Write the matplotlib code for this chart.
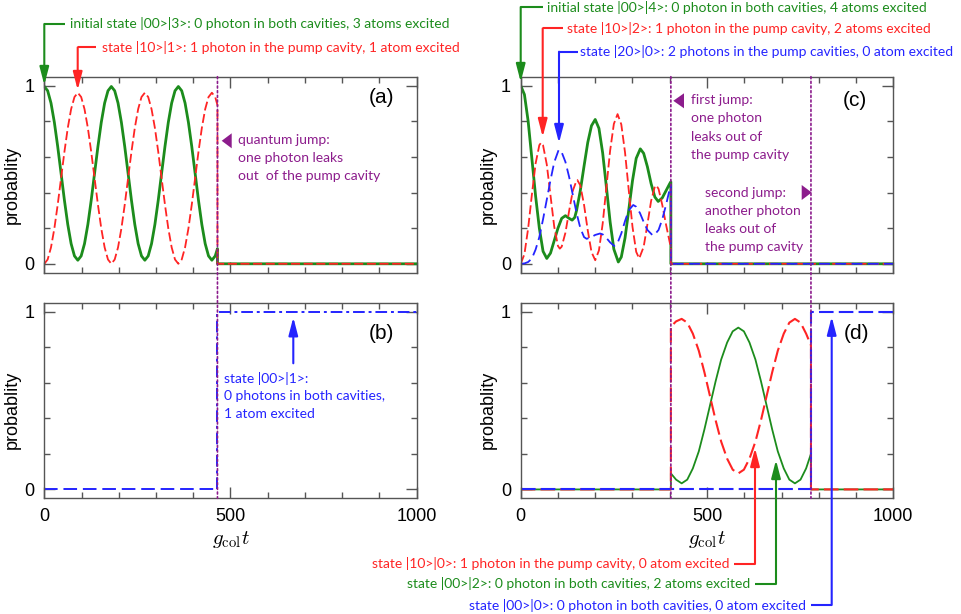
import matplotlib
matplotlib.use('Agg')
import matplotlib.pyplot as plt
from matplotlib.lines import Line2D
from matplotlib.patches import FancyArrowPatch, Polygon, ConnectionPatch

# ---------------- data ----------------
# panel (a): initial |00>|3>, jump at g t = 465
T_A = [0, 9, 18, 27, 36, 45, 54, 63, 72, 81, 90, 99, 108, 117, 126, 135, 144, 153, 162, 171,
       180, 189, 198, 207, 216, 225, 234, 243, 252, 261, 270, 279, 288, 297, 306, 315, 324, 333, 342, 351,
       360, 369, 378, 387, 396, 405, 414, 423, 432, 441, 450, 459, 465, 465, 1000]
GREEN_A = [0.995, 0.971, 0.902, 0.794, 0.658, 0.508, 0.357, 0.221, 0.113, 0.044,
           0.020, 0.044, 0.113, 0.221, 0.357, 0.508, 0.658, 0.794, 0.902, 0.971,
           0.995, 0.971, 0.902, 0.794, 0.658, 0.508, 0.357, 0.221, 0.113, 0.044,
           0.020, 0.044, 0.113, 0.221, 0.357, 0.508, 0.658, 0.794, 0.902, 0.971,
           0.995, 0.971, 0.902, 0.794, 0.658, 0.508, 0.357, 0.221, 0.113, 0.044,
           0.020, 0.044, 0.085, 0.0, 0.0]
RED_A = [0.0, 0.024, 0.092, 0.198, 0.332, 0.480, 0.628, 0.762, 0.868, 0.936,
         0.960, 0.936, 0.868, 0.762, 0.628, 0.480, 0.332, 0.198, 0.092, 0.024,
         0.0, 0.024, 0.092, 0.198, 0.332, 0.480, 0.628, 0.762, 0.868, 0.936,
         0.960, 0.936, 0.868, 0.762, 0.628, 0.480, 0.332, 0.198, 0.092, 0.024,
         0.0, 0.024, 0.092, 0.198, 0.332, 0.480, 0.628, 0.762, 0.868, 0.936,
         0.960, 0.936, 0.89, 0.0, 0.0]
JUMP_A = 465

# panel (b)
T_B = [0, 465, 465, 1000]
BLUE_B = [0, 0, 1, 1]

# panel (c): initial |00>|4>, jumps at 403 and 779
T_C_G = [0, 10, 20, 30, 40, 50, 60, 70, 80, 90, 100, 110, 120, 130, 138, 145, 150, 160, 170, 180,
         190, 200, 210, 220, 230, 240, 250, 262, 270, 280, 290, 300, 310, 321, 330, 340, 350, 360,
         369, 380, 390, 400, 403, 403, 1000]
GREEN_C = [1.00, 0.95, 0.80, 0.59, 0.38, 0.20, 0.07, 0.03, 0.06, 0.13, 0.20, 0.255, 0.27, 0.255,
           0.245, 0.26, 0.30, 0.411, 0.548, 0.681, 0.775, 0.81, 0.76, 0.622, 0.431, 0.235, 0.082,
           0.01, 0.038, 0.145, 0.302, 0.466, 0.592, 0.645, 0.62, 0.545, 0.45, 0.375, 0.35, 0.37,
           0.41, 0.45, 0.46, 0.0, 0.0]
T_C_R = [0, 10, 20, 30, 40, 50, 55, 60, 70, 80, 90, 100, 105, 110, 120, 130, 140, 150, 152, 160,
         170, 180, 190, 200, 210, 220, 230, 240, 250, 260, 270, 280, 290, 300, 310, 318, 330, 340,
         350, 360, 364, 370, 380, 390, 400, 403, 403, 1000]
RED_C = [0.0, 0.054, 0.199, 0.388, 0.563, 0.666, 0.68, 0.665, 0.557, 0.383, 0.208, 0.10, 0.085,
         0.096, 0.174, 0.297, 0.411, 0.468, 0.47, 0.44, 0.331, 0.187, 0.066, 0.02, 0.075, 0.225,
         0.43, 0.635, 0.785, 0.84, 0.782, 0.625, 0.413, 0.208, 0.067, 0.03, 0.095, 0.221, 0.353,
         0.433, 0.44, 0.42, 0.33, 0.22, 0.12, 0.095, 0.0, 0.0]
T_C_B = [0, 10, 20, 30, 40, 50, 60, 70, 80, 90, 102, 110, 120, 130, 140, 150, 160, 170, 177, 190,
         200, 213, 220, 230, 240, 251, 260, 270, 280, 290, 302, 310, 320, 330, 340, 354, 360, 370,
         380, 390, 400, 403, 403, 1000]
BLUE_C = [0.0, 0.002, 0.01, 0.03, 0.08, 0.15, 0.25, 0.36, 0.47, 0.57, 0.64, 0.626, 0.572, 0.487,
          0.385, 0.284, 0.201, 0.15, 0.14, 0.15, 0.162, 0.17, 0.165, 0.145, 0.12, 0.10, 0.117,
          0.17, 0.24, 0.30, 0.33, 0.32, 0.285, 0.235, 0.19, 0.16, 0.165, 0.19, 0.25, 0.33, 0.42,
          0.44, 0.0, 0.0]
JUMP_C1 = 403
JUMP_C2 = 779

# panel (d)
T_D = [0, 403, 403, 417, 432, 447, 462, 478, 493, 508, 523, 538, 554, 569, 584, 599, 614, 630,
       645, 660, 675, 690, 706, 721, 736, 751, 766, 779, 779, 1000]
RED_D = [0, 0, 0.915, 0.945, 0.959, 0.938, 0.876, 0.780, 0.659, 0.525, 0.390, 0.269, 0.173,
         0.111, 0.090, 0.111, 0.173, 0.269, 0.390, 0.525, 0.659, 0.780, 0.876, 0.938, 0.959,
         0.938, 0.876, 0.81, 0, 0]
GREEN_D = [0, 0, 0.09, 0.055, 0.034, 0.055, 0.118, 0.214, 0.337, 0.472, 0.607, 0.730, 0.826,
           0.889, 0.910, 0.889, 0.826, 0.730, 0.607, 0.472, 0.337, 0.214, 0.118, 0.055, 0.034,
           0.055, 0.118, 0.20, 0, 0]
T_D_B = [0, 779, 779, 1000]
BLUE_D = [0, 0, 1, 1]

# tick labels / texts
X_MAJOR = [0, 500, 1000]
X_MINOR = [100, 200, 300, 400, 600, 700, 800, 900]
Y_MAJOR = [0, 1]
Y_MINOR = [0.2, 0.4, 0.6, 0.8]
TXT_A_GREEN = "initial state |00>|3>: 0 photon in both cavities, 3 atoms excited"
TXT_A_RED = "state |10>|1>: 1 photon in the pump cavity, 1 atom excited"
TXT_A_JUMP = ["quantum jump:", "one photon leaks", "out  of the pump cavity"]
TXT_B_BLUE = ["state |00>|1>:", "0 photons in both cavities,", "1 atom excited"]
TXT_C_GREEN = "initial state |00>|4>: 0 photon in both cavities, 4 atoms excited"
TXT_C_RED = "state |10>|2>: 1 photon in the pump cavity, 2 atoms excited"
TXT_C_BLUE = "state |20>|0>: 2 photons in the pump cavities, 0 atom excited"
TXT_C_JUMP1 = ["first jump:", "one photon", "leaks out of", "the pump cavity"]
TXT_C_JUMP2 = ["second jump:", "another photon", "leaks out of", "the pump cavity"]
TXT_D_RED = "state |10>|0>: 1 photon in the pump cavity, 0 atom excited"
TXT_D_GREEN = "state |00>|2>: 0 photon in both cavities, 2 atoms excited"
TXT_D_BLUE = "state |00>|0>: 0 photon in both cavities, 0 atom excited"

# ---------------- style ----------------
GREEN = '#1c8c1c'
RED = '#ff2424'
BLUE = '#2424ff'
PURPLE = '#8c1c8c'
SPINE = '#555555'
ANN_FONT = ['Lato', 'DejaVu Sans']
ANN_FS = 10

plt.rcParams['font.family'] = ['Liberation Sans', 'DejaVu Sans']
plt.rcParams['mathtext.fontset'] = 'cm'

W, H = 962, 614
fig = plt.figure(figsize=(W / 100, H / 100), dpi=100)


def fx(x):
    return x / W


def fy(y):
    return 1 - y / H


def add_axes(l, t, r, b):
    return fig.add_axes([l / W, 1 - b / H, (r - l) / W, (b - t) / H])


axa = add_axes(44.3, 76.7, 416.7, 272.7)
axb = add_axes(44.3, 302.7, 416.7, 498.3)
axc = add_axes(520.7, 76.7, 893.3, 272.7)
axd = add_axes(520.7, 302.7, 893.3, 498.3)

for ax, top in [(axa, True), (axb, False), (axc, True), (axd, False)]:
    ax.set_xlim(0, 1000)
    ax.set_ylim(-0.05, 1.05)
    ax.set_xticks(X_MAJOR)
    ax.set_xticks(X_MINOR, minor=True)
    ax.set_yticks(Y_MAJOR)
    ax.set_yticks(Y_MINOR, minor=True)
    ax.set_yticklabels([str(v) for v in Y_MAJOR])
    ax.set_xticklabels([str(v) for v in X_MAJOR])
    ax.tick_params(which='both', direction='in', top=True, right=True, colors=SPINE,
                   labelcolor='black', labelsize=13, width=1.0)
    ax.tick_params(which='major', length=8)
    ax.tick_params(which='minor', length=4)
    ax.tick_params(axis='x', pad=7)
    ax.tick_params(axis='y', pad=7)
    if top:
        ax.tick_params(labelbottom=False)
    for s in ax.spines.values():
        s.set_color(SPINE)
        s.set_linewidth(1.0)
    ax.set_ylabel('probablity', fontsize=13)
    ax.yaxis.label.set_va('center')
    ax.yaxis.set_label_coords(-0.087, 0.45)
    if not top:
        ax.set_xlabel(r'$g_{\rm col}t$', fontsize=15)
        ax.xaxis.label.set_va('center')
        ax.xaxis.set_label_coords(0.5, -0.21)

# panel (a)
axa.plot(T_A, GREEN_A, color=GREEN, lw=2.0)
axa.plot(T_A, RED_A, color=RED, lw=1.3, dashes=(5, 2))
axa.text(0.906, 0.896, '(a)', transform=axa.transAxes, ha='center', va='center', fontsize=15)

# panel (b)
axb.plot(T_B[:2], BLUE_B[:2], color=BLUE, lw=1.4, dashes=(7, 3))
axb.plot(T_B[1:], BLUE_B[1:], color=BLUE, lw=1.4, dashes=(6, 2, 1.5, 2))
axb.text(0.906, 0.8436, '(b)', transform=axb.transAxes, ha='center', va='center', fontsize=15)

# panel (c)
axc.plot(T_C_G, GREEN_C, color=GREEN, lw=2.0)
axc.plot(T_C_R, RED_C, color=RED, lw=1.3, dashes=(5, 2))
axc.plot(T_C_B, BLUE_C, color=BLUE, lw=1.3, dashes=(6, 3))
axc.text(0.897, 0.881, '(c)', transform=axc.transAxes, ha='center', va='center', fontsize=15)

# panel (d)
axd.plot(T_D, GREEN_D, color=GREEN, lw=1.3)
axd.plot(T_D, RED_D, color=RED, lw=1.5, dashes=(7, 2.5))
axd.plot(T_D_B, BLUE_D, color=BLUE, lw=1.5, dashes=(7, 2.5))
axd.text(0.9, 0.8436, '(d)', transform=axd.transAxes, ha='center', va='center', fontsize=15)

# purple dotted jump lines spanning both rows
for xj, a_top, a_bot in [(JUMP_A, axa, axb), (JUMP_C1, axc, axd), (JUMP_C2, axc, axd)]:
    cp = ConnectionPatch(xyA=(xj, 1.05), coordsA=a_top.transData,
                         xyB=(xj, -0.05), coordsB=a_bot.transData,
                         color=PURPLE, lw=1.2, linestyle=(0, (1.2, 1.6)))
    fig.add_artist(cp)


def elbow(pts, color):
    xs = [fx(p[0]) for p in pts]
    ys = [fy(p[1]) for p in pts]
    fig.add_artist(Line2D(xs[:-1], ys[:-1], color=color, lw=1.5, transform=fig.transFigure,
                          solid_capstyle='butt'))
    fig.add_artist(FancyArrowPatch(posA=(xs[-2], ys[-2]), posB=(xs[-1], ys[-1]),
                                   transform=fig.transFigure, color=color, lw=1.5,
                                   arrowstyle='-|>,head_length=0.54,head_width=0.14',
                                   mutation_scale=20, shrinkA=0, shrinkB=0))


def label(x, y, s, color, ha='left'):
    fig.text(fx(x), fy(y), s, color=color, ha=ha, va='center', fontsize=ANN_FS, family=ANN_FONT)


def block(x, y0, lines, dy, color):
    for i, s in enumerate(lines):
        label(x, y0 + i * dy, s, color)


def tri(pts):
    fig.add_artist(Polygon([(fx(p[0]), fy(p[1])) for p in pts], closed=True,
                           transform=fig.transFigure, color=PURPLE, lw=0))


# left column annotations
label(70, 24, TXT_A_GREEN, GREEN)
elbow([(65, 24), (44.3, 24), (44.3, 85)], GREEN)
label(101.7, 47.5, TXT_A_RED, RED)
elbow([(96, 47.3), (77.7, 47.3), (77.7, 90)], RED)
tri([(221.7, 140.8), (231.7, 133.3), (231.7, 148.3)])
block(237.7, 140, TXT_A_JUMP, 17.8, PURPLE)
elbow([(293.3, 363.3), (293.3, 317.3)], BLUE)
block(224.3, 378.3, TXT_B_BLUE, 17.9, BLUE)

# right column annotations
label(546.7, 7, TXT_C_GREEN, GREEN)
elbow([(543, 7), (520.7, 7), (520.7, 82)], GREEN)
label(566.7, 28.3, TXT_C_RED, RED)
elbow([(563, 28.3), (542.7, 28.3), (542.7, 137)], RED)
label(580, 51.7, TXT_C_BLUE, BLUE)
elbow([(578, 51.7), (559, 51.7), (559, 143)], BLUE)
tri([(673.3, 100.8), (684, 93.3), (684, 108.3)])
block(690.7, 100, TXT_C_JUMP1, 18.3, PURPLE)
tri([(811.7, 192.5), (801.7, 185), (801.7, 200)])
block(705, 192.7, TXT_C_JUMP2, 18.2, PURPLE)

label(729.3, 564, TXT_D_RED, RED, ha='right')
elbow([(734, 564), (755, 564), (755, 448)], RED)
label(750, 584, TXT_D_GREEN, GREEN, ha='right')
elbow([(755, 584), (776, 584), (776, 460)], GREEN)
label(806, 605, TXT_D_BLUE, BLUE, ha='right')
elbow([(811, 605), (831.7, 605), (831.7, 316.7)], BLUE)

fig.savefig('out.png', dpi=100)
